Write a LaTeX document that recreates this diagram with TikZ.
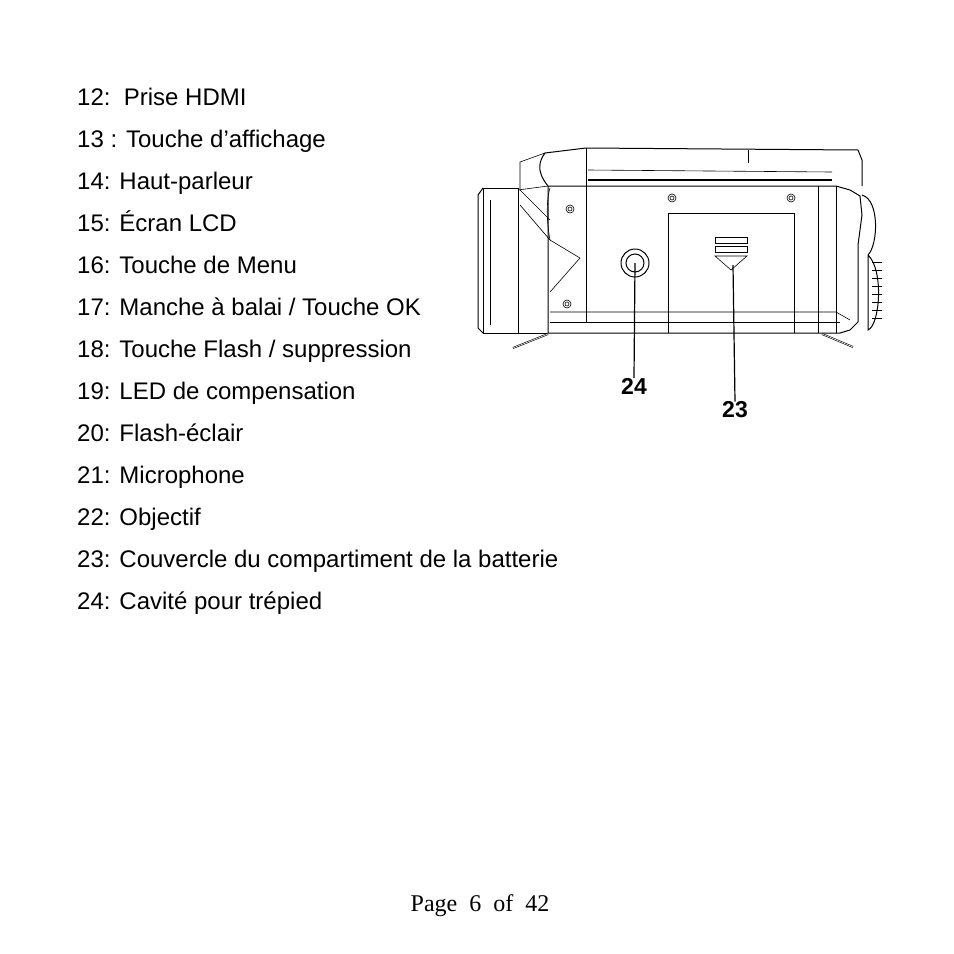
\documentclass[tikz,border=0pt]{standalone}
\usepackage{fontspec}
\setmainfont{Liberation Sans}
\newfontfamily\timesf{Liberation Serif}
\begin{document}
\begin{tikzpicture}[x=1pt,y=-1pt,
  item/.style={anchor=base west,inner sep=0pt,font=\fontsize{24}{26}\selectfont},
  lab/.style={inner sep=0pt,font=\bfseries\fontsize{23}{24}\selectfont},
  cam/.style={line width=1pt},
  thin/.style={line width=0.6pt}]
\useasboundingbox (0,0) rectangle (954,954);
\node[item] (t1) at (77,105) {12:\ \ Prise HDMI};
\node[item] (t2) at (77,147) {13 : Touche d’affichage};
\node[item] (t3) at (77,189) {14: Haut-parleur};
\node[item] (t4) at (77,231) {15: Écran LCD};
\node[item] (t5) at (77,273) {16: Touche de Menu};
\node[item] (t6) at (77,315) {17: Manche à balai / Touche OK};
\node[item] (t7) at (77,357) {18: Touche Flash / suppression};
\node[item] (t8) at (77,399) {19: LED de compensation};
\node[item] (t9) at (77,441) {20: Flash-éclair};
\node[item] (t10) at (77,483) {21: Microphone};
\node[item] (t11) at (77,525) {22: Objectif};
\node[item] (t12) at (77,567) {23: Couvercle du compartiment de la batterie};
\node[item] (t13) at (77,609) {24: Cavité pour trépied};
\node[inner sep=0pt,anchor=base,font=\timesf\fontsize{24}{26}\selectfont] (pg) at (480,911) {Page\ \ 6\ \ of\ \ 42};
% camera body
\draw[cam] (548,186) -- (818,186) -- (836,186) -- (850,190) -- (860,196) -- (862,215) -- (858,245) -- (858,322) -- (850,330) -- (840,333) -- (548,333) -- cycle;
\draw[cam] (586,148) -- (858,150) -- (862,160) -- (862,186);
\draw[cam] (586,148) -- (586,186);
\draw[line width=1.5pt] (588,180) -- (832,180);
\draw[thin] (588,170) -- (832,172);
\draw[thin] (748,150) -- (748,163);
\draw[thin] (586,186) -- (586,322);
\draw[thin] (818,186) -- (818,333);
\draw[thin] (836,186) -- (836,333);
\draw[thin] (550,312) -- (836,312) -- (850,320);
\draw[thin] (550,322) -- (840,322);
% grip left
\draw[cam] (548,186) .. controls (535,170) and (540,160) .. (545,153) -- (586,148);
\draw[thin] (545,153) -- (520,162) -- (520,190);
\draw[thin] (550,188) .. controls (545,205) and (548,230) .. (550,240);
\draw[thin] (550,240) -- (580,258) -- (550,292);
\draw[thin] (520,190) -- (550,220);
\draw[thin] (520,205) -- (550,240);
% lens
\draw[cam] (483,188) rectangle (518,333);
\draw[cam] (478,195) -- (483,188);\draw[cam] (478,195) -- (478,328) -- (483,333);
\draw[thin] (490,200) -- (490,325);
\draw[thin] (518,190) -- (548,186);\draw[thin] (518,333) -- (548,333);
% right wheel
\draw[cam] (862,195) .. controls (880,200) and (878,245) .. (868,255) -- (868,330) .. controls (880,325) and (884,270) .. (868,255);
\foreach \y in {262,270,...,322} \draw[thin] (872,\y) -- (882,\y);
% screws
\foreach \p in {(570,209),(672,198),(791,198),(567,304)} {\draw[thin] \p circle (4); \draw[thin] \p circle (2);}
% battery door
\draw[cam] (668,333) -- (668,213) -- (794,213) -- (794,333);
\draw[thin] (715,237) rectangle (747,243);
\draw[thin] (715,246) rectangle (747,252);
\draw[thin] (715,256) -- (747,256) -- (731,270) -- cycle;
% tripod
\coordinate (tp) at (635,263);
\draw[cam] (tp) circle (14);
\draw[cam] (tp) circle (9);
% feet
\draw[thin,double] (513,348) -- (548,334);
\draw[thin,double] (822,334) -- (853,347);
% leaders
\node[lab] (l24) at (634,386) {24};
\node[lab] (l23) at (735,410) {23};
\coordinate (d23) at (733,265);
\draw[line width=1.2pt] (tp) -- (l24.north);
\draw[line width=1.2pt] (d23) -- (l23.north);
\end{tikzpicture}
\end{document}
